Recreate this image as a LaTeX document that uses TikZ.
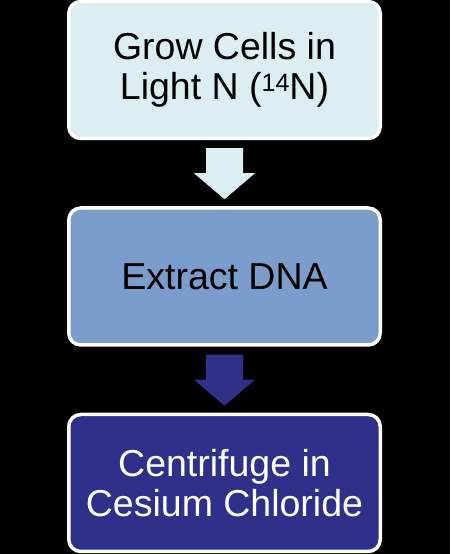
\documentclass[tikz,border=0pt]{standalone}
\usepackage{fontspec}
\setmainfont{Liberation Sans}
\usetikzlibrary{positioning, calc}
\definecolor{lightaqua}{RGB}{219,238,242}
\definecolor{midblue}{RGB}{122,157,204}
\definecolor{darkblue}{RGB}{46,48,138}

\begin{document}
\begin{tikzpicture}[
	stage/.style={draw=white, line width=3.5pt, rounded corners=12pt, minimum width=311.5pt, minimum height=137pt, outer sep=0pt, inner sep=0pt, align=center, font=\fontsize{37.5}{39.5}\selectfont},
	node distance=69.5pt
	]
			\fill[black] (0,0) rectangle (450pt,554pt);
			\useasboundingbox (0,0) rectangle (450pt,554pt);
			\node[stage, fill=lightaqua] (grow) at (224.5pt,484pt) {Grow Cells in\\Light N (\raisebox{8pt}{\fontsize{25}{25}\selectfont 14}N)};
			\node[stage, fill=midblue, below=of grow] (extract) {Extract DNA};
			\node[stage, fill=darkblue, text=white, below=of extract] (centrifuge) {Centrifuge in\\Cesium Chloride};
			% block arrows
			\fill[lightaqua] ($(grow.south)+(-18.5pt,-9.75pt)$) -- ++(37pt,0) -- ++(0,-25pt) -- ++(12pt,0)
			-- ($(extract.north)+(0,8.75pt)$) -- ++(-30.5pt,26pt) -- ++(12pt,0) -- cycle;
			\fill[darkblue] ($(extract.south)+(-18.5pt,-9.75pt)$) -- ++(37pt,0) -- ++(0,-25pt) -- ++(12pt,0)
			-- ($(centrifuge.north)+(0,8.75pt)$) -- ++(-30.5pt,26pt) -- ++(12pt,0) -- cycle;
	\end{tikzpicture}
\end{document}
